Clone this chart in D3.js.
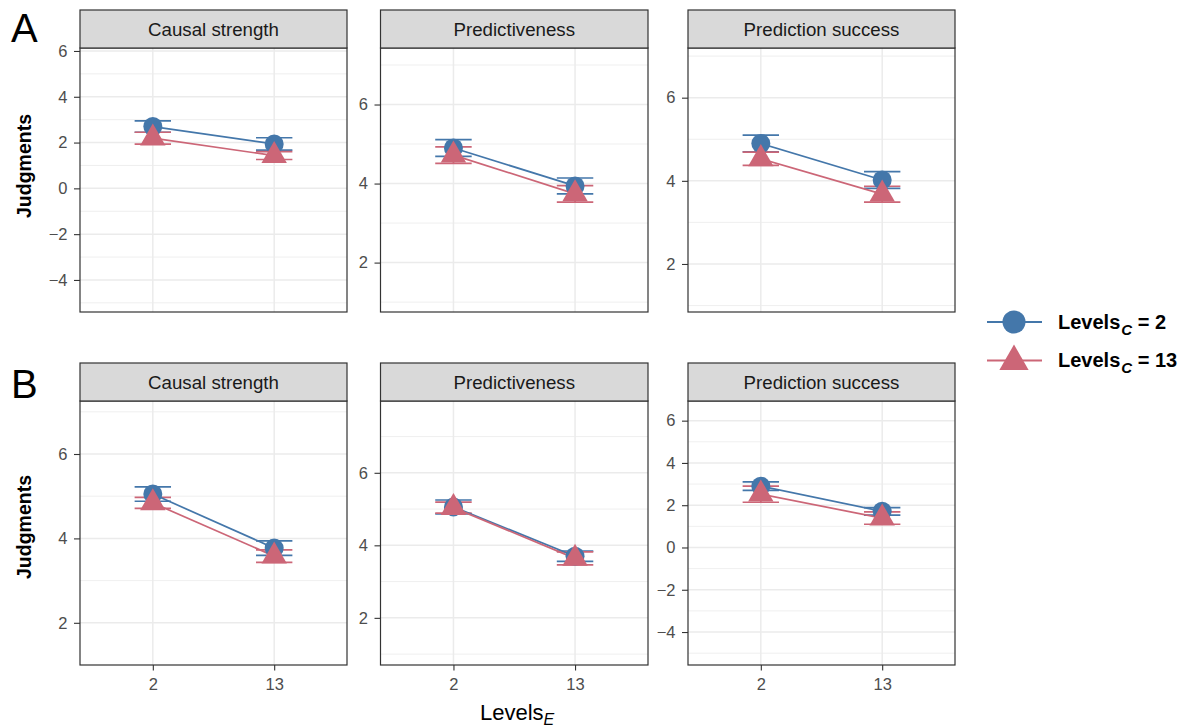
<!DOCTYPE html>
<html>
<head>
<meta charset="utf-8">
<script src="https://cdn.jsdelivr.net/npm/d3@7"></script>
<style>
  body { margin: 0; background: #fff; }
  svg { display: block; }
  text { font-family: "Liberation Sans", Arial, sans-serif; }
</style>
</head>
<body>
<svg id="chart" width="1199" height="728"></svg>
<script>
// ---- data -------------------------------------------------------------
const measures = ["Causal strength", "Predictiveness", "Prediction success"];
const levelsE = ["2", "13"];
const levelsC = ["2", "13"];
const experiments = ["A", "B"];

// Experiment A: mean judgments and standard errors, per measure [E=2, E=13]
const meanA_C2 = [[2.70, 1.94], [4.90, 3.94], [4.90, 4.02]];
const seA_C2   = [[0.25, 0.27], [0.21, 0.20], [0.20, 0.20]];
const meanA_C13 = [[2.19, 1.43], [4.72, 3.74], [4.53, 3.68]];
const seA_C13   = [[0.26, 0.17], [0.21, 0.21], [0.16, 0.19]];

// Experiment B
const meanB_C2 = [[5.05, 3.77], [5.06, 3.70], [2.90, 1.71]];
const seB_C2   = [[0.17, 0.17], [0.19, 0.14], [0.20, 0.18]];
const meanB_C13 = [[4.84, 3.58], [5.04, 3.64], [2.52, 1.39]];
const seB_C13   = [[0.13, 0.15], [0.15, 0.18], [0.38, 0.29]];

// Free y scales per facet
const yLimitsA = [[-5.40, 6.13], [0.75, 7.43], [0.845, 7.195]];
const yLimitsB = [[1.00, 7.256], [0.70, 7.98], [-5.56, 6.93]];
const yTicksA = [[-4, -2, 0, 2, 4, 6], [2, 4, 6], [2, 4, 6]];
const yTicksB = [[2, 4, 6], [2, 4, 6], [-4, -2, 0, 2, 4, 6]];

// ---- layout -----------------------------------------------------------
const W = 1199, H = 728;
const colors = ["#4477AA", "#CC6677"];
const colX = [[80, 347], [380.5, 648], [688, 955]];
const rows = [
  { strip: [10, 48], panel: [48, 312] },
  { strip: [363, 401], panel: [401, 665] }
];
const means = [[meanA_C2, meanA_C13], [meanB_C2, meanB_C13]];
const ses = [[seA_C2, seA_C13], [seB_C2, seB_C13]];
const yLimits = [yLimitsA, yLimitsB];
const yTicks = [yTicksA, yTicksB];

const svg = d3.select("#chart");
svg.append("rect").attr("width", W).attr("height", H).attr("fill", "#fff");

const triangle = d3.symbol().type(d3.symbolTriangle).size(280);

experiments.forEach((exp, r) => {
  const row = rows[r];
  measures.forEach((m, c) => {
    const [x0, x1] = colX[c];
    const [y0, y1] = row.panel;
    const g = svg.append("g");

    const x = d3.scalePoint().domain(levelsE).range([x0, x1]).padding(0.6);
    const y = d3.scaleLinear().domain(yLimits[r][c]).range([y1, y0]);
    const major = yTicks[r][c];
    const stepT = major[1] - major[0];
    const minor = [major[0] - stepT / 2].concat(major.map(t => t + stepT / 2))
      .filter(v => v > y.domain()[0] && v < y.domain()[1]);

    g.append("rect").attr("x", x0).attr("y", y0)
      .attr("width", x1 - x0).attr("height", y1 - y0).attr("fill", "#fff");

    // grid
    g.selectAll(".minor").data(minor).enter().append("line")
      .attr("x1", x0).attr("x2", x1)
      .attr("y1", d => y(d)).attr("y2", d => y(d))
      .attr("stroke", "#EBEBEB").attr("stroke-width", 0.8);
    g.selectAll(".major").data(major).enter().append("line")
      .attr("x1", x0).attr("x2", x1)
      .attr("y1", d => y(d)).attr("y2", d => y(d))
      .attr("stroke", "#EBEBEB").attr("stroke-width", 1.5);
    g.selectAll(".vgrid").data(levelsE).enter().append("line")
      .attr("x1", d => x(d)).attr("x2", d => x(d))
      .attr("y1", y0).attr("y2", y1)
      .attr("stroke", "#EBEBEB").attr("stroke-width", 1.5);

    const halfW = 0.15 * x.step();
    const series = levelsC.map((lc, s) => levelsE.map((le, i) => ({
      e: le, mean: means[r][s][c][i], se: ses[r][s][c][i], s
    })));

    // error bars
    series.forEach((pts, s) => {
      pts.forEach(p => {
        const lo = y(p.mean - p.se), hi = y(p.mean + p.se), cx = x(p.e);
        const path = d3.path();
        path.moveTo(cx - halfW, hi); path.lineTo(cx + halfW, hi);
        path.moveTo(cx, hi); path.lineTo(cx, lo);
        path.moveTo(cx - halfW, lo); path.lineTo(cx + halfW, lo);
        g.append("path").attr("d", path.toString())
          .attr("fill", "none").attr("stroke", colors[s]).attr("stroke-width", 1.7);
      });
    });
    // connecting lines
    const line = d3.line().x(d => x(d.e)).y(d => y(d.mean));
    series.forEach((pts, s) => {
      g.append("path").datum(pts).attr("d", line)
        .attr("fill", "none").attr("stroke", colors[s]).attr("stroke-width", 1.7);
    });
    // points
    series.forEach((pts, s) => {
      pts.forEach(p => {
        if (s === 0) {
          g.append("circle").attr("cx", x(p.e)).attr("cy", y(p.mean))
            .attr("r", 9.5).attr("fill", colors[s]);
        } else {
          g.append("path").attr("d", triangle)
            .attr("transform", `translate(${x(p.e)},${y(p.mean)})`)
            .attr("fill", colors[s]);
        }
      });
    });

    // border
    g.append("rect").attr("x", x0).attr("y", y0)
      .attr("width", x1 - x0).attr("height", y1 - y0)
      .attr("fill", "none").attr("stroke", "#333").attr("stroke-width", 1.2);

    // strip
    const [s0, s1] = row.strip;
    g.append("rect").attr("x", x0).attr("y", s0)
      .attr("width", x1 - x0).attr("height", s1 - s0)
      .attr("fill", "#D9D9D9").attr("stroke", "#333").attr("stroke-width", 1.2);
    g.append("text").attr("x", (x0 + x1) / 2).attr("y", (s0 + s1) / 2)
      .attr("dy", "0.36em").attr("text-anchor", "middle")
      .attr("font-size", 18.7).attr("fill", "#1A1A1A").text(m);

    // y axis
    const yAxis = d3.axisLeft(y).tickValues(major).tickSize(6).tickPadding(6.5)
      .tickFormat(d => d < 0 ? "\u2212" + Math.abs(d) : String(d));
    const ga = svg.append("g").attr("transform", `translate(${x0},0)`).call(yAxis);
    ga.select(".domain").remove();
    ga.selectAll(".tick line").attr("stroke", "#333").attr("stroke-width", 1.1);
    ga.selectAll(".tick text").attr("fill", "#4D4D4D").attr("font-size", 16.5)
      .attr("font-family", "Liberation Sans, Arial, sans-serif");

    // x axis on the bottom row
    if (r === 1) {
      const xAxis = d3.axisBottom(x).tickSize(5.5).tickPadding(8);
      const gx = svg.append("g").attr("transform", `translate(0,${y1})`).call(xAxis);
      gx.select(".domain").remove();
      gx.selectAll(".tick line").attr("stroke", "#333").attr("stroke-width", 1.1);
      gx.selectAll(".tick text").attr("fill", "#4D4D4D").attr("font-size", 16.5)
        .attr("font-family", "Liberation Sans, Arial, sans-serif");
    }
  });

  // experiment letter
  svg.append("text").attr("x", 11).attr("y", r === 0 ? 42 : 398)
    .attr("font-size", 40).attr("fill", "#000").text(exp);

  // y title
  svg.append("text")
    .attr("transform", `translate(31,${r === 0 ? 166 : 527}) rotate(-90)`)
    .attr("text-anchor", "middle").attr("font-size", 19.5).attr("font-weight", "bold")
    .attr("fill", "#000").text("Judgments");
});

// x title
const xt = svg.append("text").attr("x", 480).attr("y", 720)
  .attr("font-size", 22).attr("fill", "#000");
xt.append("tspan").text("Levels");
xt.append("tspan").attr("dy", 5).attr("font-size", 16).attr("font-style", "italic").text("E");

// legend
const legendY = [322, 360.5];
levelsC.forEach((lc, s) => {
  const ly = legendY[s];
  svg.append("line").attr("x1", 987).attr("x2", 1042).attr("y1", ly).attr("y2", ly)
    .attr("stroke", colors[s]).attr("stroke-width", 2.2);
  if (s === 0) {
    svg.append("circle").attr("cx", 1014).attr("cy", ly).attr("r", 11.5).attr("fill", colors[s]);
  } else {
    svg.append("path").attr("d", d3.symbol().type(d3.symbolTriangle).size(370))
      .attr("transform", `translate(1014,${ly + 1})`).attr("fill", colors[s]);
  }
  const t = svg.append("text").attr("x", 1058).attr("y", ly + 6.5)
    .attr("font-size", 20).attr("font-weight", "bold").attr("fill", "#000");
  t.append("tspan").text("Levels");
  t.append("tspan").attr("dx", 1).attr("dy", 6).attr("font-size", 15).attr("font-style", "italic").text("C");
  t.append("tspan").attr("dy", -6).text(" = " + lc);
});
</script>
</body>
</html>
